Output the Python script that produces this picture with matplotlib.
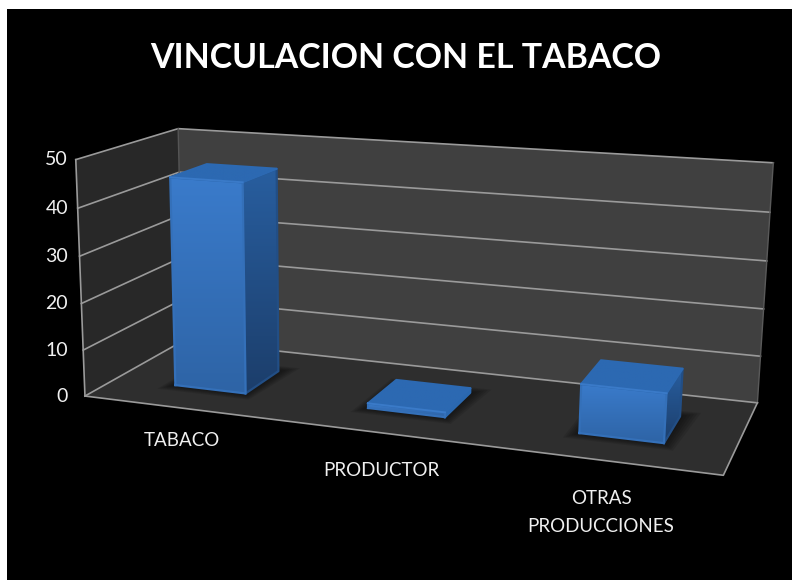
import numpy as np
import matplotlib
matplotlib.use("Agg")
import matplotlib.pyplot as plt
from matplotlib.patches import Polygon, Rectangle
from matplotlib.path import Path
from matplotlib.patches import PathPatch

categories = ["TABACO", "PRODUCTOR", "OTRAS\nPRODUCCIONES"]
values = [45, 1, 10]
yticks = [0, 10, 20, 30, 40, 50]
title = "VINCULACION CON EL TABACO"

plt.rcParams['font.family'] = ['Lato', 'DejaVu Sans']
W, H = 792, 580
fig = plt.figure(figsize=(W/100, H/100), dpi=100, facecolor='white')
ax = fig.add_axes([0, 0, 1, 1])
ax.set_xlim(0, W); ax.set_ylim(H, 0); ax.axis('off')
ax.add_patch(Rectangle((7, 9), W-7, H-9, fc='black', ec='none', zorder=0))

# camera: projective map (category, depth, value) -> image, fitted on the frame corners
src = [(0,0,0),(3,0,0),(0,1,0),(3,1,0),(0,0,50),(0,1,50),(3,1,50)]
dst = [(87,396),(723,476),(181,341),(758,402),(74,159),(180,129),(773,163)]
A = []
for (x,y,z),(u,v) in zip(src,dst):
    A.append([x,y,z,1,0,0,0,0,-u*x,-u*y,-u*z,-u])
    A.append([0,0,0,0,x,y,z,1,-v*x,-v*y,-v*z,-v])
P = np.linalg.svd(np.array(A,float))[2][-1].reshape(3,4)
def proj(x,y,z):
    r = P @ np.array([x,y,z,1.0])
    return r[0]/r[2], r[1]/r[2]
def poly(pts, **kw):
    p = Polygon([proj(*q) for q in pts], closed=True, **kw)
    ax.add_patch(p)
    return p

# walls & floor
poly([(0,1,0),(3,1,0),(3,1,50),(0,1,50)], fc='#404040', ec='none', zorder=1)
poly([(0,0,0),(0,1,0),(0,1,50),(0,0,50)], fc='#282828', ec='none', zorder=1)
poly([(0,0,0),(3,0,0),(3,1,0),(0,1,0)], fc='#2e2e2e', ec='none', zorder=1)

GRID = '#9a9a9a'
for t in yticks:
    pts = [proj(0,0,t), proj(0,1,t), proj(3,1,t)]
    ax.plot(*zip(*pts), color=GRID, lw=1.2, zorder=2, solid_joinstyle='miter')
    ax.text(68, proj(0,0,t)[1], str(t), color='#f0f0f0', fontsize=14, ha='right', va='center', zorder=5)
ax.plot(*zip(proj(0,0,0),proj(0,0,50)), color=GRID, lw=1.2, zorder=2)
ax.plot(*zip(proj(0,1,0),proj(0,1,50)), color='#555555', lw=1, zorder=2)
ax.plot(*zip(proj(3,1,0),proj(3,1,50)), color='#5a5a5a', lw=1, zorder=2)
ax.plot(*zip(proj(0,0,0),proj(3,0,0),proj(3,1,0)), color=GRID, lw=1.2, zorder=2)

def grad_face(pts, c_top, c_bot, z):
    xy = np.array([proj(*q) for q in pts])
    patch = PathPatch(Path(np.vstack([xy, xy[0]]), closed=True), fc='none', ec='none', transform=ax.transData)
    ax.add_patch(patch)
    c0, c1 = [np.array(matplotlib.colors.to_rgb(c)) for c in (c_top, c_bot)]
    g = np.linspace(0,1,64)[:,None,None]*(c1-c0)[None,None,:]+c0
    x0,x1,y0,y1 = xy[:,0].min(),xy[:,0].max(),xy[:,1].min(),xy[:,1].max()
    im = ax.imshow(g, extent=(x0,x1,y1,y0), aspect='auto', zorder=z, interpolation='bilinear')
    im.set_clip_path(patch)
    ax.plot(*zip(*np.vstack([xy, xy[0]])), color=tuple((c0+c1)/2), lw=1.6, zorder=z, solid_joinstyle='round')

BW = 0.375; Y0, Y1 = 0.30, 0.68
for i, v in enumerate(values):
    c = i + 0.51
    x0, x1 = c-BW/2, c+BW/2
    # soft shadow on the floor
    for k in range(6):
        e = (6-k)*0.009
        poly([(x0-e,Y0-e*1.5,0),(x1+e,Y0-e*1.5,0),(x1+e*1.5,Y1+e*1.5,0),(x0-e,Y1+e*1.5,0)],
             fc='black', alpha=0.10, ec='none', zorder=3)
    grad_face([(x0,Y0,0),(x1,Y0,0),(x1,Y0,v),(x0,Y0,v)], '#3a7bcb', '#2e64a6', 4.2)
    if v > 2:
        grad_face([(x1,Y0,0),(x1,Y1,0),(x1,Y1,v),(x1,Y0,v)], '#285e9f', '#1c3e6b', 4.1)
    else:
        grad_face([(x1,Y0,0),(x1,Y1,0),(x1,Y1,v),(x1,Y0,v)], '#2a68b0', '#2a68b0', 4.1)
    grad_face([(x0,Y0,v),(x1,Y0,v),(x1,Y1,v),(x0,Y1,v)], '#2c69b2', '#2c69b2', 4.3)
    # lit bevel along the front top edge
    ax.plot(*zip(proj(x0,Y0,v),proj(x1,Y0,v)), color='#3a7ac8', lw=1.4, zorder=4.4)

label_xy = [(182,441),(381,470),(601,512.5)]
for lab,(lx,ly) in zip(categories,label_xy):
    ax.text(lx, ly, lab, color='#f0f0f0', fontsize=13.5, ha='center', va='center',
            linespacing=1.75, zorder=5)
ax.text(406, 58, title, color='white', fontsize=24.4, fontweight='bold', ha='center', va='center', zorder=5)

fig.savefig('out.png', dpi=100, facecolor='white')
